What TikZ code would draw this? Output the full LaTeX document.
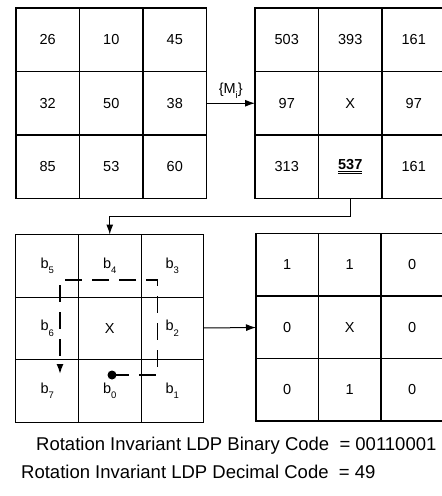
\documentclass[tikz,border=0pt]{standalone}
\usepackage{fontspec}
\setmainfont{Liberation Sans}
\usetikzlibrary{arrows.meta, positioning}
\newcommand{\lsub}[1]{\raisebox{-0.7ex}{\fontsize{9.5bp}{10bp}\selectfont #1}}

\begin{document}
\begin{tikzpicture}[x=1bp, y=-1bp, >={Latex[length=10bp,width=7bp]}, font=\fontsize{14.5bp}{17bp}\selectfont]

\tikzstyle{cell} = [draw, shape=rectangle, minimum size=63.5bp, inner sep=0pt, outer sep=0pt, node distance=63.5bp, line width=1.5bp]
\tikzstyle{small} = [cell, minimum size=62.5bp, node distance=62.5bp, line width=1bp]
\tikzstyle{walk} = [line width=1.5bp, dash pattern=on 17bp off 10bp]
\tikzstyle{code} = [anchor=base west, inner sep=0pt, font=\fontsize{18.5bp}{21bp}\selectfont]

\useasboundingbox (0,0) rectangle (442,496);

%Creating Input Neighbourhood
\node [cell] at (47.75,39.75) (p1) {26};
\node [cell, right of=p1] (p2) {10};
\node [cell, right of=p2] (p3) {45};
\node [cell, below of=p1] (p4) {32};
\node [cell, right of=p4] (p5) {50};
\node [cell, right of=p5] (p6) {38};
\node [cell, below of=p4] (p7) {85};
\node [cell, right of=p7] (p8) {53};
\node [cell, right of=p8] (p9) {60};

%Creating Mask Responses
\node [cell] at (286.75,39.75) (m1) {503};
\node [cell, right of=m1] (m2) {393};
\node [cell, right of=m2] (m3) {161};
\node [cell, below of=m1] (m4) {97};
\node [cell, right of=m4] (m5) {X};
\node [cell, right of=m5] (m6) {97};
\node [cell, below of=m4] (m7) {313};
\node [cell, right of=m7] (m8) {\underline{\underline{\textbf{537}}}};
\node [cell, right of=m8] (m9) {161};

%Creating Bit Positions
\node [small] at (47.25,265.75) (b5) {b\lsub{5}};
\node [small, right of=b5] (b4) {b\lsub{4}};
\node [small, right of=b4] (b3) {b\lsub{3}};
\node [small, below of=b5] (b6) {b\lsub{6}};
\node [small, right of=b6] (bx) {X};
\node [small, right of=bx] (b2) {b\lsub{2}};
\node [small, below of=b6] (b7) {b\lsub{7}};
\node [small, right of=b7] (b0) {b\lsub{0}};
\node [small, right of=b0] (b1) {b\lsub{1}};

%Creating Binary Pattern
\node [small, line width=1.5bp] at (287.25,264.75) (r1) {1};
\node [small, line width=1.5bp, right of=r1] (r2) {1};
\node [small, line width=1.5bp, right of=r2] (r3) {0};
\node [small, line width=1.5bp, below of=r1] (r4) {0};
\node [small, line width=1.5bp, right of=r4] (r5) {X};
\node [small, line width=1.5bp, right of=r5] (r6) {0};
\node [small, line width=1.5bp, below of=r4] (r7) {0};
\node [small, line width=1.5bp, right of=r7] (r8) {1};
\node [small, line width=1.5bp, right of=r8] (r9) {0};

%Conecting Blocks
\draw[->, line width=1bp] (p6) -- node[above, yshift=1bp] {\{M\lsub{i}\}} (m4);
\draw[->, line width=1bp] (m8.south) -- ++(0,18) -| (b4.north);
\draw[->, line width=1bp] (b2) -- (r4);

%Reading Order
\coordinate (start) at (112,375);
\coordinate (c1) at (157.5,375);
\coordinate (c2) at (157.5,280);
\coordinate (c3) at (60,280);
\coordinate (stop) at (60,374);
\fill (start) circle (4.5bp);
\draw[->, walk] (start) -- (c1) -- (c2) -- (c3) -- (stop);

%Codes
\node [code] at (36,450) (bin) {Rotation Invariant LDP Binary Code\ \ = 00110001};
\node [code] at (21,478) (dec) {Rotation Invariant LDP Decimal Code\ \ = 49};

\end{tikzpicture}
\end{document}
